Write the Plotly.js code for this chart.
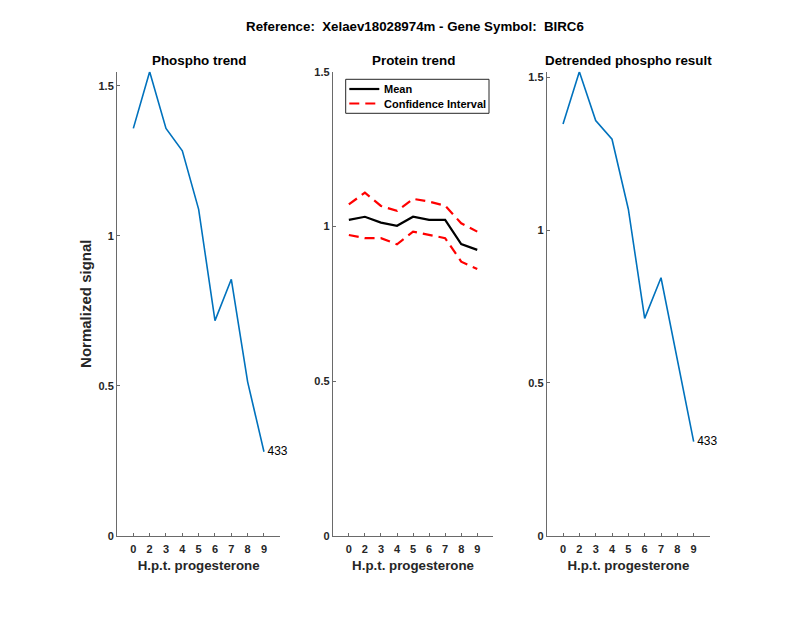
<!DOCTYPE html>
<html>
<head>
<meta charset="utf-8">
<script src="https://cdn.plot.ly/plotly-3.0.1.min.js"></script>
<style>html,body{margin:0;padding:0;background:#fff;}#chart{width:800px;height:618px;}</style>
</head>
<body>
<div id="chart"></div>
<script>
// ---- data ----
const timeLabels = ['0','2','3','4','5','6','7','8','9'];
const phosphoTrend = [1.358, 1.547, 1.358, 1.283, 1.088, 0.717, 0.855, 0.513, 0.280];
const proteinMean  = [1.021, 1.031, 1.012, 1.002, 1.031, 1.021, 1.021, 0.943, 0.924];
const proteinUpper = [1.071, 1.109, 1.066, 1.050, 1.089, 1.080, 1.067, 1.010, 0.983];
const proteinLower = [0.972, 0.962, 0.962, 0.942, 0.983, 0.972, 0.962, 0.886, 0.862];
const detrended    = [1.347, 1.518, 1.358, 1.297, 1.068, 0.711, 0.844, 0.575, 0.308];
const peptideLabel = '433';
const legendNames = ['Mean', 'Confidence Interval'];
const mainTitle = 'Reference:  Xelaev18028974m - Gene Symbol:  BIRC6';
const panelTitles = ['Phospho trend', 'Protein trend', 'Detrended phospho result'];
const xTitle = 'H.p.t. progesterone';
const yTitle = 'Normalized signal';

const FONT = 'Liberation Sans, Arial, Helvetica, sans-serif';
const BLUE = '#0072BD';
const TXT = '#262626';
const AXC = '#6a6a6a';
const DASH = '10px,6px';

const W = 800, H = 618;
const px = v => v / W;          // horizontal pixel -> paper
const py = v => (H - v) / H;    // vertical pixel -> paper

function endLabel(arr) { return arr.map((_, i) => i === arr.length - 1 ? peptideLabel : ''); }

function phosphoTrace(yv, xa, ya) {
  return {x: timeLabels, y: yv, type: 'scatter', mode: 'lines+markers+text', xaxis: xa, yaxis: ya,
    text: endLabel(yv), textposition: 'middle right', cliponaxis: false,
    textfont: {family: FONT, size: 12, color: '#000'},
    marker: {size: 4, color: 'rgba(0,0,0,0)', line: {width: 0}},
    line: {color: BLUE, width: 1.6}, showlegend: false, hoverinfo: 'skip'};
}

const traces = [
  phosphoTrace(phosphoTrend, 'x', 'y'),
  {x: timeLabels, y: proteinMean, type: 'scatter', mode: 'lines', xaxis: 'x2', yaxis: 'y2',
   name: legendNames[0], showlegend: false, line: {color: '#000', width: 2.2}},
  {x: timeLabels, y: proteinUpper, type: 'scatter', mode: 'lines', xaxis: 'x2', yaxis: 'y2',
   name: legendNames[1], showlegend: false, line: {color: '#FF0000', width: 2.2, dash: DASH}},
  {x: timeLabels, y: proteinLower, type: 'scatter', mode: 'lines', xaxis: 'x2', yaxis: 'y2',
   name: legendNames[1], showlegend: false, line: {color: '#FF0000', width: 2.2, dash: DASH}},
  phosphoTrace(detrended, 'x3', 'y3')
];

const yDom = [py(535.7), py(71.7)];
function xa(dom, anchor) {
  return {
    domain: dom, anchor: anchor, type: 'category', categoryarray: timeLabels, range: [-1, 9],
    showline: true, linecolor: AXC, linewidth: 1,
    ticks: 'inside', ticklen: 3, tickcolor: AXC, showgrid: false, zeroline: false,
    ticklabelstandoff: 3,
    tickfont: {family: FONT, size: 11, color: TXT, weight: 'bold'},
    title: {text: xTitle, font: {family: FONT, size: 13.3, color: TXT, weight: 'bold'}, standoff: 6},
    fixedrange: true
  };
}
function ya(anchor, maxv, withTitle) {
  const o = {
    domain: yDom, anchor: anchor, range: [0, maxv],
    tickvals: [0, 0.5, 1, 1.5], ticktext: ['0', '0.5', '1', '1.5'],
    showline: true, linecolor: AXC, linewidth: 1,
    ticks: 'inside', ticklen: 3, tickcolor: AXC, showgrid: false, zeroline: false,
    tickfont: {family: FONT, size: 11, color: TXT, weight: 'bold'},
    fixedrange: true
  };
  if (withTitle) o.title = {text: yTitle, font: {family: FONT, size: 15, color: TXT, weight: 'bold'}, standoff: 3};
  return o;
}

const d1 = [px(117), px(280.3)], d2 = [px(332.8), px(493.3)], d3 = [px(546.7), px(710)];
const titleFont = {family: FONT, size: 13.4, color: '#000', weight: 'bold'};

// manual legend (MATLAB-style compact box)
const lg = {x0: 345.7, x1: 489, y0: 79.3, y1: 113.3, row1: 89, row2: 103.5, s0: 349.3, s1: 379.3, tx: 381.5};

const layout = {
  width: W, height: H,
  margin: {l: 0, r: 0, t: 0, b: 0},
  paper_bgcolor: '#fff', plot_bgcolor: '#fff',
  font: {family: FONT, color: TXT},
  showlegend: false,
  title: {text: mainTitle, x: px(415), xanchor: 'center', y: py(26), yanchor: 'middle',
          font: {family: FONT, size: 13.3, color: '#000', weight: 'bold'}},
  xaxis: xa(d1, 'y'),
  yaxis: ya('x', 1.547, true),
  xaxis2: xa(d2, 'y2'),
  yaxis2: ya('x2', 1.5, false),
  xaxis3: xa(d3, 'y3'),
  yaxis3: ya('x3', 1.518, false),
  shapes: [
    {type: 'rect', xref: 'paper', yref: 'paper', x0: px(lg.x0), x1: px(lg.x1), y0: py(lg.y1), y1: py(lg.y0),
     line: {color: TXT, width: 1}, fillcolor: '#fff', layer: 'above'},
    {type: 'line', xref: 'paper', yref: 'paper', x0: px(lg.s0), x1: px(lg.s1), y0: py(lg.row1), y1: py(lg.row1),
     line: {color: '#000', width: 2.2}, layer: 'above'},
    {type: 'line', xref: 'paper', yref: 'paper', x0: px(lg.s0), x1: px(lg.s1 - 1), y0: py(lg.row2), y1: py(lg.row2),
     line: {color: '#FF0000', width: 2.2, dash: DASH}, layer: 'above'}
  ],
  annotations: [
    {text: panelTitles[0], xref: 'paper', yref: 'paper', x: (d1[0]+d1[1])/2, y: py(61), xanchor: 'center', yanchor: 'middle', showarrow: false, font: titleFont},
    {text: panelTitles[1], xref: 'paper', yref: 'paper', x: (d2[0]+d2[1])/2, y: py(61), xanchor: 'center', yanchor: 'middle', showarrow: false, font: titleFont},
    {text: panelTitles[2], xref: 'paper', yref: 'paper', x: (d3[0]+d3[1])/2, y: py(61), xanchor: 'center', yanchor: 'middle', showarrow: false, font: titleFont},
    {text: legendNames[0], xref: 'paper', yref: 'paper', x: px(lg.tx), y: py(lg.row1), xanchor: 'left', yanchor: 'middle', showarrow: false,
     font: {family: FONT, size: 11, color: '#000', weight: 'bold'}},
    {text: legendNames[1], xref: 'paper', yref: 'paper', x: px(lg.tx), y: py(lg.row2), xanchor: 'left', yanchor: 'middle', showarrow: false,
     font: {family: FONT, size: 11, color: '#000', weight: 'bold'}}
  ]
};

Plotly.newPlot('chart', traces, layout, {displayModeBar: false, staticPlot: true});
</script>
</body>
</html>
